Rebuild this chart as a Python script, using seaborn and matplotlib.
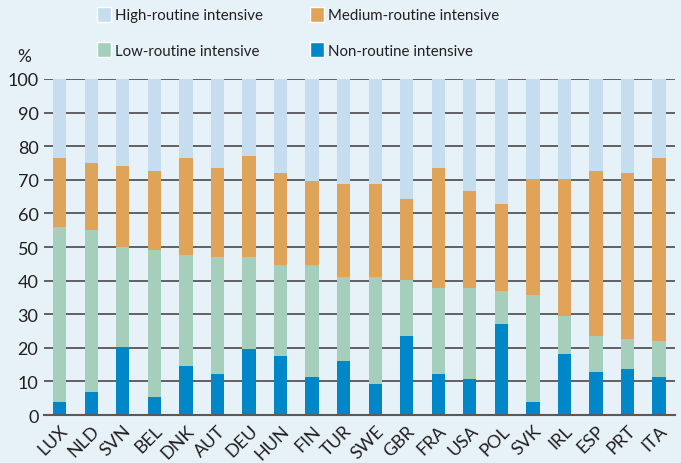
import numpy as np
import pandas as pd
import matplotlib
matplotlib.use("Agg")
import matplotlib.pyplot as plt
from matplotlib import font_manager
from matplotlib.patches import Patch
import seaborn as sns

# =====================================================
# Data (shares of employment, %)
# =====================================================

countries = ["LUX", "NLD", "SVN", "BEL", "DNK", "AUT", "DEU", "HUN", "FIN", "TUR",
             "SWE", "GBR", "FRA", "USA", "POL", "SVK", "IRL", "ESP", "PRT", "ITA"]

non_routine = [4.0, 6.9, 20.2, 5.4, 14.6, 12.2, 19.6, 17.6, 11.3, 16.1,
               9.2, 23.5, 12.2, 10.7, 27.1, 3.9, 18.2, 12.8, 13.7, 11.3]
low_routine = [52.0, 48.2, 29.8, 43.7, 33.0, 34.8, 27.4, 27.0, 33.3, 25.0,
               31.9, 16.7, 25.6, 27.1, 9.8, 31.8, 11.3, 10.7, 8.9, 10.7]
medium_routine = [20.5, 19.9, 24.1, 23.5, 28.9, 26.5, 30.1, 27.4, 25.0, 27.7,
                  27.7, 24.1, 35.7, 28.9, 25.9, 34.5, 40.7, 49.1, 49.4, 54.5]

df = pd.DataFrame({
    "country": countries,
    "non": non_routine,
    "low": low_routine,
    "medium": medium_routine,
})
df["high"] = 100 - df["non"] - df["low"] - df["medium"]

# cumulative tops for the stacked bars
df["top_non"] = df["non"]
df["top_low"] = df["top_non"] + df["low"]
df["top_medium"] = df["top_low"] + df["medium"]
df["top_high"] = df["top_medium"] + df["high"]

colors = {
    "high": "#c6dcef",
    "medium": "#e0a35a",
    "low": "#a5cfbb",
    "non": "#0087c8",
}
bg = "#e6f2f8"
text_color = "#231f20"

# =====================================================
# Setup
# =====================================================

sns.set_theme(style="white")
plt.rcParams["font.family"] = ["Lato", "DejaVu Sans"]

available = {f.name for f in font_manager.fontManager.ttflist}
legend_font = "Liberation Sans Narrow" if "Liberation Sans Narrow" in available else "Lato"

fig = plt.figure(figsize=(6.81, 4.64), dpi=100, facecolor=bg)
ax = fig.add_axes([0.0646, 0.1034, 0.9264, 0.7242], facecolor=bg)

for y in range(10, 101, 10):
    ax.axhline(y, color="#3a3a3a", lw=1.1, zorder=0)

for layer in ["high", "medium", "low", "non"]:
    sns.barplot(
        data=df,
        x="country",
        y="top_" + layer,
        color=colors[layer],
        width=0.42,
        saturation=1,
        linewidth=0,
        ax=ax,
        zorder=2,
    )

ax.set_xlim(-0.5, 19.5)
ax.set_ylim(0, 100)
ax.set_yticks(range(0, 101, 10))
ax.set_xlabel("")
ax.set_ylabel("")

for side in ["top", "right", "left"]:
    ax.spines[side].set_visible(False)
ax.spines["bottom"].set_color("#5a5a5a")
ax.spines["bottom"].set_linewidth(1.5)
ax.spines["bottom"].set_zorder(3)

ax.tick_params(axis="y", length=0, pad=4, labelsize=13, labelcolor=text_color)
ax.tick_params(axis="x", which="major", length=0, pad=5, labelsize=13,
               labelcolor=text_color)
ax.set_xticks(np.arange(0.5, 19.6, 1), minor=True)
ax.tick_params(axis="x", which="minor", direction="in", length=5,
               width=1.2, color="#4a4a4a")

plt.setp(ax.get_xticklabels(), rotation=45, ha="right", rotation_mode="anchor")

fig.text(0.036, 0.877, "%", fontsize=12.5, color=text_color, ha="center", va="center")

# =====================================================
# Legend: size the font from the width of the longest left label
# =====================================================

label_w = 148
renderer = fig.canvas.get_renderer()
probe = fig.text(0, 0, "High-routine intensive", fontsize=12, family=legend_font)
probe_w = probe.get_window_extent(renderer).width
probe.remove()
leg_size = 12 * label_w / probe_w
fs_px = leg_size * 100 / 72

handles = [
    Patch(facecolor=colors["high"], label="High-routine intensive"),
    Patch(facecolor=colors["low"], label="Low-routine intensive"),
    Patch(facecolor=colors["medium"], label="Medium-routine intensive"),
    Patch(facecolor=colors["non"], label="Non-routine intensive"),
]
fig.legend(
    handles=handles,
    ncol=2,
    loc="upper left",
    bbox_to_anchor=(97 / 681, 1 - 8 / 464),
    borderpad=0,
    borderaxespad=0,
    frameon=False,
    prop={"family": legend_font, "size": leg_size},
    handlelength=14 / fs_px,
    handleheight=17 / fs_px,
    handletextpad=4 / fs_px,
    columnspacing=(310 - 115 - label_w) / fs_px,
    labelspacing=(37 - 17) / fs_px,
    labelcolor=text_color,
)

fig.savefig("out.png", dpi=100, facecolor=bg)
